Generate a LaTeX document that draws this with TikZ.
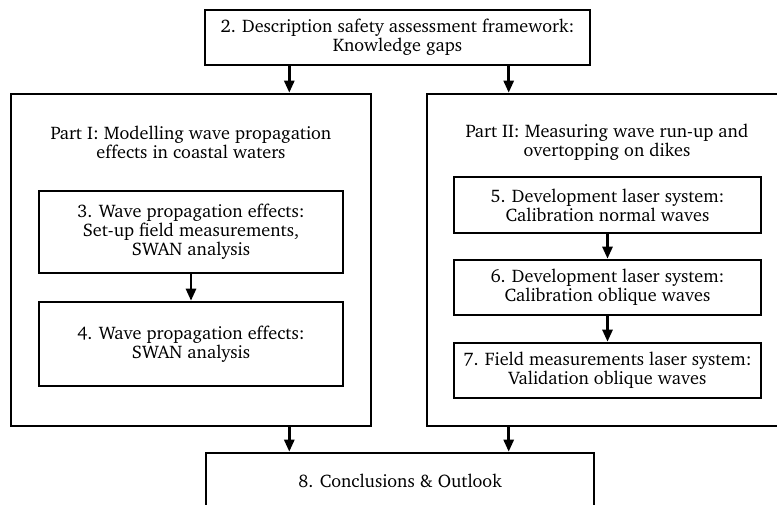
\documentclass[tikz,border=0pt]{standalone}
\usepackage[T1]{fontenc}
\usepackage{charter}
\usepackage{tikz}
\usetikzlibrary{arrows.meta}
\tikzset{chapter/.style={draw,line width=2.6pt,align=center,inner sep=0pt,minimum width=307pt,minimum height=55pt},
	part/.style={draw,line width=2.6pt,inner sep=0pt,minimum width=360pt,minimum height=332pt},
	title/.style={align=center,inner sep=0pt}}

\begin{document}
\begin{tikzpicture}[x=1pt,y=-1pt,font=\fontsize{18.2}{19}\selectfont]
		\useasboundingbox (0,0) rectangle (777,505);
		\clip (0,0) rectangle (777,505);
		% the two parts
		\node[part] (P1) at (191,260) {};
		\node[part] (P2) at (607,260) {};
		\node[title] (T1) at (191,142) {Part I: Modelling wave propagation\\effects in coastal waters};
		\node[title] (T2) at (607,142) {Part II: Measuring wave run-up and\\overtopping on dikes};
		% chapters
		\node[chapter,minimum width=385pt] (C2) at (397.5,37.5) {2. Description safety assessment framework:\\Knowledge gaps};
		\node[chapter,minimum width=304pt,minimum height=82pt] (C3) at (191,232) {3. Wave propagation effects:\\Set-up field measurements,\\SWAN analysis};
		\node[chapter,minimum width=304pt,minimum height=84pt] (C4) at (191,344) {4. Wave propagation effects:\\SWAN analysis};
		\node[chapter,minimum height=56pt] (C5) at (607.5,205) {5. Development laser system:\\Calibration normal waves};
		\node[chapter] (C6) at (607.5,287.5) {6. Development laser system:\\Calibration oblique waves};
		\node[chapter] (C7) at (607.5,370.5) {7. Field measurements laser system:\\Validation oblique waves};
		\node[chapter,minimum width=388pt] (C8) at (400,480.5) {8. Conclusions \& Outlook};
		\coordinate (inL) at ([xshift=-83pt]P1.north east);
		\coordinate (inR) at ([xshift=83pt]P2.north west);
		\coordinate (outL) at ([xshift=-83pt]P1.south east);
		\coordinate (outR) at ([xshift=83pt]P2.south west);
		\begin{scope}[>={Triangle[length=12pt,width=10pt]},
			every edge/.style={draw,line width=2.6pt}]
			\path [->] (C2.south -| inL) edge (inL);
			\path [->] (C2.south -| inR) edge (inR);
			\path [->] (C3) edge (C4);
			\path [->] (C5) edge (C6);
			\path [->] (C6) edge (C7);
			\path [->] (outL) edge (outL |- C8.north);
			\path [->] (outR) edge (outR |- C8.north);
		\end{scope}
	\end{tikzpicture}
\end{document}
